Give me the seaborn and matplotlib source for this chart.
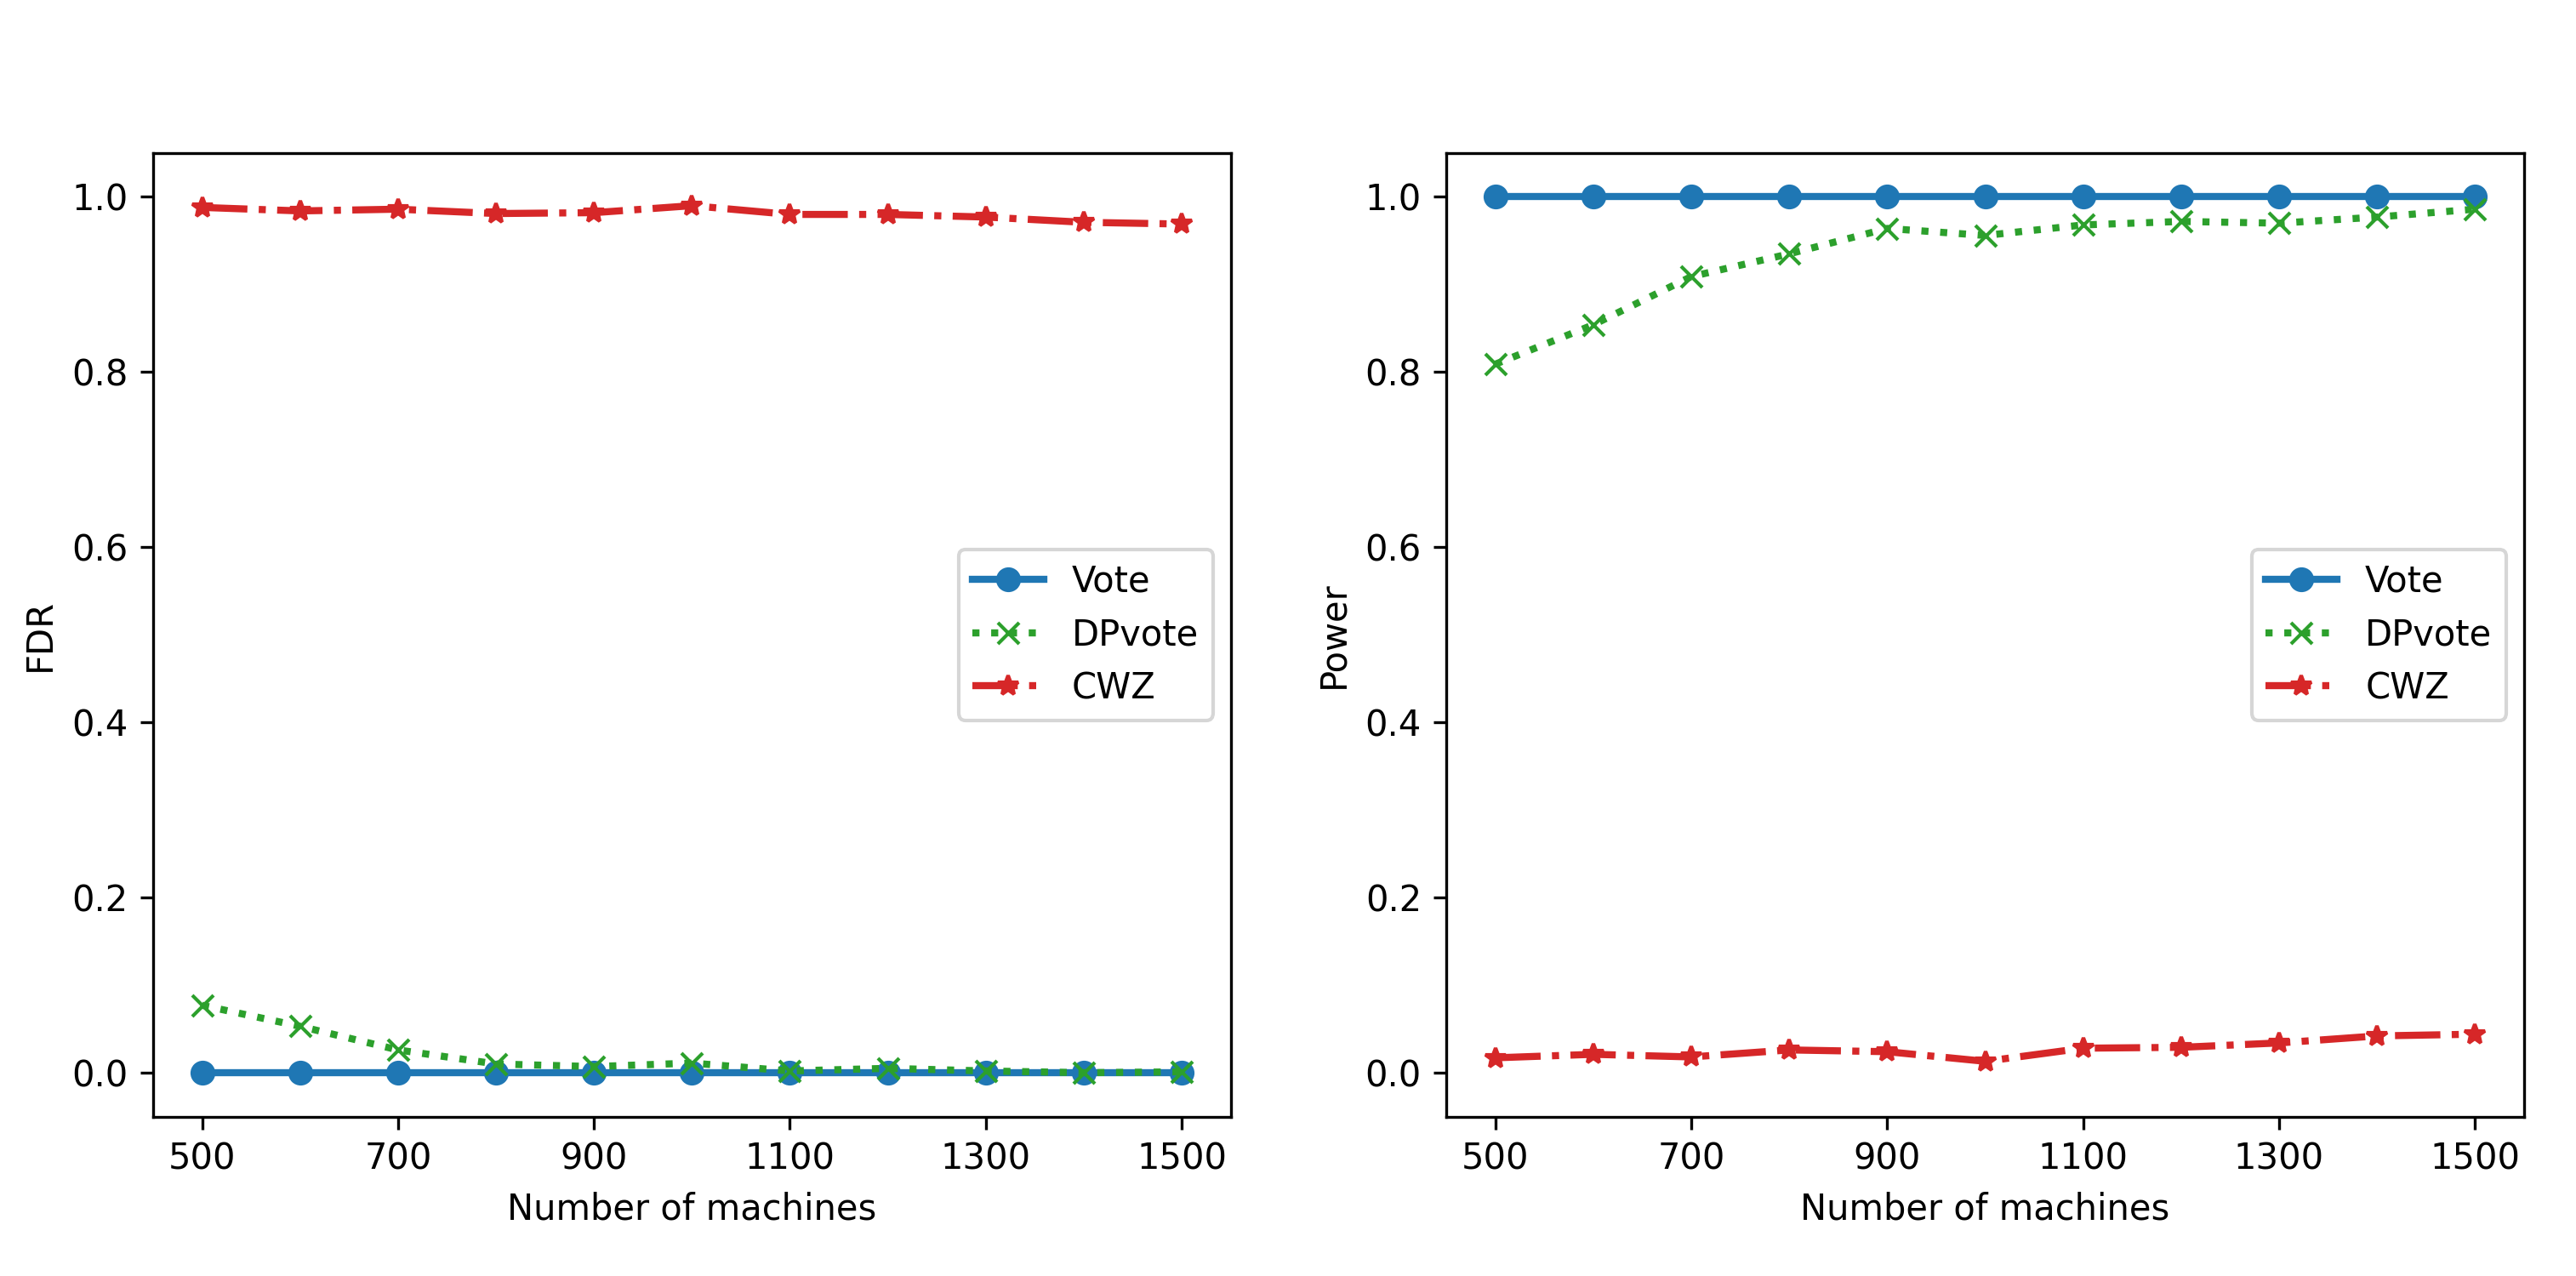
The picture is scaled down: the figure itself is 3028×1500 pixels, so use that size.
import matplotlib

matplotlib.use("Agg")
import matplotlib.pyplot as plt
import pandas as pd
import seaborn as sns

machines = [500, 600, 700, 800, 900, 1000, 1100, 1200, 1300, 1400, 1500]

fdr_vote = [0.0, 0.0, 0.0, 0.0, 0.0, 0.0, 0.0, 0.0, 0.0, 0.0, 0.0]
fdr_dpvote = [0.077, 0.053, 0.026, 0.010, 0.007, 0.011, 0.002, 0.005, 0.002, 0.0, 0.001]
fdr_cwz = [0.988, 0.984, 0.986, 0.981, 0.982, 0.990, 0.980, 0.980, 0.977, 0.971, 0.969]

power_vote = [1.0, 1.0, 1.0, 1.0, 1.0, 1.0, 1.0, 1.0, 1.0, 1.0, 1.0]
power_dpvote = [0.809, 0.854, 0.909, 0.935, 0.964, 0.956, 0.968, 0.972, 0.970, 0.977, 0.986]
power_cwz = [0.017, 0.021, 0.018, 0.026, 0.024, 0.013, 0.028, 0.029, 0.034, 0.042, 0.044]

methods = ["Vote", "DPvote", "CWZ"]
styles = {
    "Vote": dict(color="tab:blue", marker="o", linestyle="-"),
    "DPvote": dict(color="tab:green", marker="x", linestyle=":"),
    "CWZ": dict(color="tab:red", marker="*", linestyle="-."),
}

fig, axes = plt.subplots(1, 2, figsize=(3029 / 300, 5), dpi=300)
fig.subplots_adjust(left=0.0594, right=0.9795, bottom=0.125, top=0.88, wspace=0.2)

panels = [
    ("FDR", [fdr_vote, fdr_dpvote, fdr_cwz]),
    ("Power", [power_vote, power_dpvote, power_cwz]),
]

for ax, (ylabel, series) in zip(axes, panels):
    for name, values in zip(methods, series):
        df = pd.DataFrame({"machines": machines, "value": values})
        st = styles[name]
        # seaborn paints marker edges white by default; keep them the line colour
        sns.lineplot(data=df, x="machines", y="value", ax=ax, label=name,
                     linewidth=2, markersize=6, markeredgewidth=1,
                     markeredgecolor=st["color"], markerfacecolor=st["color"], **st)
    ax.set_xticks([500, 700, 900, 1100, 1300, 1500])
    ax.set_yticks([0.0, 0.2, 0.4, 0.6, 0.8, 1.0])
    ax.set_ylim(-0.05, 1.05)
    ax.set_xlabel("Number of machines")
    ax.set_ylabel(ylabel)
    ax.legend(loc="center right")

fig.savefig("out.png", dpi=300)
